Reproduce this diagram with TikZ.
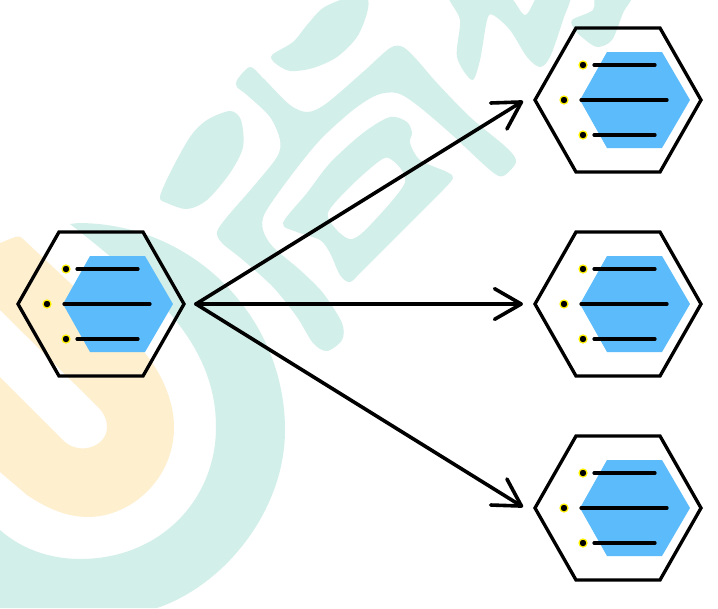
\documentclass[tikz,border=0pt]{standalone}
\usetikzlibrary{arrows.meta}
\definecolor{wmteal}{HTML}{D3EFE9}
\definecolor{wmorange}{HTML}{FEEFCF}
\definecolor{hexblue}{HTML}{5BBBFB}
\tikzset{
  x=0.75pt,y=-0.75pt,
  tealshape/.style={fill=wmteal,draw=none},
  orangeshape/.style={fill=wmorange,draw=none},
  outerhex/.style={draw=black,line width=2.5pt,line join=miter},
  innerhex/.style={fill=hexblue,draw=none},
  barline/.style={draw=black,line width=2.4pt,line cap=round},
  portdot/.style={circle,fill=black,draw=yellow,line width=0.9pt,inner sep=0pt,minimum size=6pt},
  link/.style={draw=black,line width=2.7pt,line cap=round,-{Straight Barb[length=20pt,width=23pt,line width=2.7pt,round]}},
  anchorpt/.style={inner sep=0pt,minimum size=0pt}
}
\newcommand{\wmblob}[2][wmteal]{\fill[#1] plot[smooth cycle,tension=0.5] coordinates {#2};}
\newcommand{\hexunit}[3]{%
  \begin{scope}[shift={(#1,#2)}]
    \fill[innerhex] (-38,0)--(-11,-48)--(44,-48)--(72,0)--(44,48)--(-11,48)--cycle;
    \draw[outerhex] (-83,0)--(-42,-72)--(42,-72)--(83,0)--(42,72)--(-42,72)--cycle;
    \draw[barline] (-24,-35)--(37,-35);
    \draw[barline] (-37,0)--(49,0);
    \draw[barline] (-24,35)--(37,35);
    \node[portdot] (#3a) at (-35,-35) {};
    \node[portdot] (#3b) at (-54,0) {};
    \node[portdot] (#3c) at (-35,35) {};
  \end{scope}}
\begin{document}
\begin{tikzpicture}
\useasboundingbox (0,0) rectangle (718,608);
\fill[white] (0,0) rectangle (718,608);
\begin{scope}
\clip (0,0) rectangle (718,608);
% orange watermark
\fill[orangeshape] (0,243) -- (15,237) .. controls (18,236) and (20,236) .. (23,239)
  -- (145,353)
  .. controls (165,378) and (174,405) .. (174,427)
  .. controls (174,480) and (130,517) .. (88,517)
  .. controls (65,517) and (45,507) .. (27,495)
  -- (0,472) -- (0,377) -- (65,442)
  .. controls (80,455) and (107,447) .. (107,427)
  .. controls (107,418) and (102,411) .. (98,407)
  -- (0,310) -- cycle;
% teal ring
\fill[tealshape] (70,224) -- (78,223)
  .. controls (192,223) and (285,316) .. (285,430)
  .. controls (285,510) and (225,585) .. (157,608)
  -- (0,608) -- (0,530)
  .. controls (25,552) and (55,559) .. (80,559)
  .. controls (160,559) and (216,500) .. (216,427)
  .. controls (216,385) and (200,350) .. (173,317)
  .. controls (145,285) and (110,255) .. (70,224) -- cycle;
% teal strokes
\wmblob{(160,197)(170,173)(190,137)(207,120)(230,111)(241,120)(243,147)(230,173)(207,200)(187,209)(167,203)}
\wmblob{(272,55)(293,42)(307,25)(323,8)(347,-2)(367,-2)(367,13)(357,37)(337,57)(313,68)(290,71)(275,63)}
\wmblob{(237,80)(250,67)(263,78)(290,105)(308,112)(327,103)(363,72)(390,48)(403,47)(417,60)(437,83)(470,117)(507,148)(516,162)(503,176)(490,170)(450,133)(417,105)(397,93)(377,95)(353,110)(320,140)(290,177)(265,213)(263,230)(273,247)(300,270)(323,293)(342,323)(342,340)(327,351)(313,343)(297,317)(273,287)(243,260)(222,243)(217,232)(227,217)(253,187)(277,157)(280,140)(270,117)(247,95)(237,87)}
\wmblob{(283,223)(307,193)(330,163)(363,133)(390,117)(407,122)(412,133)(410,143)(420,160)(447,172)(453,178)(443,190)(410,223)(363,270)(350,282)(340,275)(330,253)(320,240)(297,232)}
\wmblob[white]{(328,213)(350,187)(377,163)(388,158)(400,168)(405,182)(390,203)(363,232)(350,239)(337,230)}
\wmblob{(450,-6)(460,20)(457,57)(472,80)(480,60)(487,20)(493,15)(510,30)(527,57)(540,67)(550,57)(563,20)(570,-6)(540,-6)(525,15)(505,-6)}
\wmblob{(572,20)(575,30)(583,38)(597,47)(612,40)(623,13)(632,-6)(597,-6)(593,10)}
\end{scope}
% units
\hexunit{101}{304}{s}
\hexunit{618}{100}{t}
\hexunit{618}{304}{u}
\hexunit{618}{508}{v}
\node[anchorpt] (hub) at (196,304) {};
\node[anchorpt] (ta) at (523,101) {};
\node[anchorpt] (ua) at (523,304) {};
\node[anchorpt] (va) at (523,507) {};
\draw[link] (hub.center) -- (ta.center);
\draw[link] (hub.center) -- (ua.center);
\draw[link] (hub.center) -- (va.center);
\end{tikzpicture}
\end{document}
